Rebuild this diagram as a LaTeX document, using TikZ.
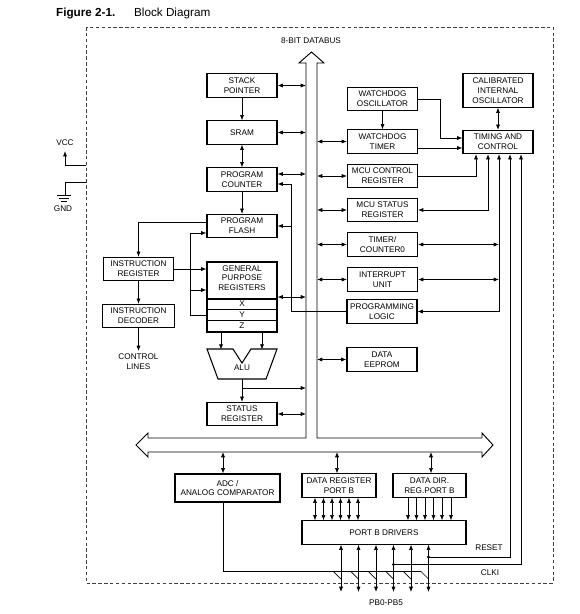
\documentclass[tikz,border=0pt]{standalone}
\usepackage{fontspec}
\setmainfont{Liberation Sans}
\usetikzlibrary{arrows.meta, calc}

\tikzset{
  blk/.style={draw, line width=0.9pt, minimum width=2.1cm, minimum height=0.7cm, align=center, inner sep=1pt, font=\fontsize{7}{8.3}\selectfont},
  lbl/.style={align=center, inner sep=0pt, font=\fontsize{7}{8.3}\selectfont},
  arr/.style={-{Latex[length=4.5pt,width=3.5pt]}, line width=0.6pt},
  dbl/.style={{Latex[length=4.5pt,width=3.5pt]}-{Latex[length=4.5pt,width=3.5pt]}, line width=0.6pt},
}

\begin{document}
\begin{tikzpicture}[x=0.03cm, y=-0.03cm]
\useasboundingbox (0,0) rectangle (579,614);

% frame and title
\draw[dash pattern=on 3pt off 2pt, line width=0.6pt, black!75] (86,27) rectangle (553,583);
\node[anchor=west, font=\fontsize{10}{12}\selectfont\bfseries] (fig) at (52,13) {Figure 2-1.};
\node[anchor=west, font=\fontsize{10}{12}\selectfont] (ttl) at (130,13) {Block Diagram};

% databus
\draw[line width=0.8pt] (306,63) -- (299,63) -- (311.5,52) -- (324,63) -- (317,63) -- (317,438)
  -- (482,438) -- (482,433) -- (493,445) -- (482,457) -- (482,452) -- (148,452) -- (148,457)
  -- (136,445) -- (148,433) -- (148,438) -- (306,438) -- cycle;
\node[lbl] (dbus) at (311,41) {8-BIT DATABUS};
\coordinate (busl) at (306,0);
\coordinate (busr) at (317,0);
\coordinate (busb) at (0,452);

% left column
\node[blk] (sp) at (242,85.5) {STACK\\POINTER};
\node[blk] (sram) at (242,132.5) {SRAM};
\node[blk] (pc) at (242,179.5) {PROGRAM\\COUNTER};
\node[blk] (flash) at (242,226) {PROGRAM\\FLASH};
\node[blk, minimum height=2.1cm] (gpr) at (242,297) {};
\foreach \y in {299,309.5,320.5}
  \draw[line width=0.9pt] (gpr.west |- 0,\y) -- (gpr.east |- 0,\y);
\node[lbl] (gprt) at (242,278) {GENERAL\\PURPOSE\\REGISTERS};
\node[lbl] (xreg) at (242,304) {X};
\node[lbl] (yreg) at (242,315) {Y};
\node[lbl] (zreg) at (242,326) {Z};
\draw[line width=0.9pt] (207,349) -- (233,349) -- (242,363) -- (251,349) -- (277,349)
  -- (266,379) -- (218,379) -- cycle;
\node[lbl] (alu) at (242,368) {ALU};
\coordinate (alub) at (242,379);
\node[blk] (sreg) at (242,414) {STATUS\\REGISTER};

\node[blk] (ir) at (138.5,269) {INSTRUCTION\\REGISTER};
\node[blk, minimum width=2.16cm] (id) at (138.5,316) {INSTRUCTION\\DECODER};
\node[lbl] (ctl) at (138.5,362) {CONTROL\\LINES};

% right column
\node[blk] (wdo) at (382.5,99) {WATCHDOG\\OSCILLATOR};
\node[blk] (wdt) at (382.5,141.5) {WATCHDOG\\TIMER};
\node[blk] (mcucr) at (382.5,176) {MCU CONTROL\\REGISTER};
\node[blk] (mcusr) at (382.5,210) {MCU STATUS\\REGISTER};
\node[blk] (tmr) at (382.5,244.5) {TIMER/\\COUNTER0};
\node[blk] (irq) at (382.5,279.5) {INTERRUPT\\UNIT};
\node[blk] (prog) at (382,311.5) {PROGRAMMING\\LOGIC};
\node[blk] (eep) at (382,359.5) {DATA\\EEPROM};
\node[blk, minimum height=1cm] (cio) at (498,90.5) {CALIBRATED\\INTERNAL\\OSCILLATOR};
\node[blk] (tc) at (498,142) {TIMING AND\\CONTROL};

% bottom
\node[blk, minimum width=3.15cm, minimum height=0.84cm] (adc) at (227.5,488) {ADC /\\ANALOG COMPARATOR};
\node[blk, minimum width=2.22cm] (dreg) at (339,485.5) {DATA REGISTER\\PORT B};
\node[blk, minimum width=2.19cm] (ddr) at (429.5,485.5) {DATA DIR.\\REG.PORT B};
\node[blk, minimum width=4.92cm] (drv) at (384,532.5) {PORT B DRIVERS};
\node[lbl] (rst) at (489,548) {RESET};
\node[lbl] (clki) at (490,573) {CLKI};
\node[lbl] (pbl) at (386,603) {PB0-PB5};

% supply
\node[lbl] (vcc) at (65,143) {VCC};
\node[lbl] (gnd) at (63,209) {GND};
\coordinate (vin) at (86,165);
\coordinate (gin) at (86,182);
\draw[arr] (vin) -| ($(vcc.south)+(0,5)$);
\draw[line width=0.6pt] (gin) -| (65,195);
\draw[line width=0.6pt] (57,195) -- (71,195) (59,198) -- (69,198) (61,201) -- (67,201);

% bus links
\foreach \n in {sp,sram,gpr,sreg}
  \draw[dbl] (\n.east) -- (\n.east -| busl);
\coordinate (pcb) at ($(pc.east)+(0,-5.5)$);
\draw[dbl] (pcb) -- (pcb -| busl);
\foreach \n in {wdt,mcucr,mcusr,tmr,irq,eep}
  \draw[dbl] (\n.west -| busr) -- (\n.west);

% left column links
\draw[arr] (sp.south) -- (sram.north);
\draw[dbl] (sram.south) -- (pc.north);
\draw[arr] (pc.south) -- (flash.north);
\draw[arr] ($(flash.west)+(0,-4)$) -| (ir.north);
\draw[arr] (ir.east) -- (ir.east -| gpr.west);
\draw[arr] (ir.south) -- (id.north);
\draw[arr] (id.south) -- ($(ctl.north)+(0,-3)$);
\draw[arr] (gpr.west |- yreg) -- ++(-16,0) |- ($(flash.west)+(0,7)$);
\draw[arr] ($(gpr.west)+(-16,-7)$) -- ($(gpr.west)+(0,-7)$);
\draw[arr] ($(gpr.south)+(-21,0)$) -- ++(0,17);
\draw[arr] ($(gpr.south)+(20,0)$) -- ++(0,17);
\draw[arr] (alub) -- (sreg.north);
\draw[arr] ($(alub)+(0,9)$) -- ($(alub -| busl)+(0,9)$);
\coordinate (pgl) at (291,0);
\draw[arr] (prog.west) -- (prog.west -| pgl) |- ($(pc.east)+(0,4.5)$);
\draw[arr] (flash.east -| pgl) -- (flash.east);

% right column links
\draw[arr] (wdo.south) -- (wdt.north);
\draw[arr] (wdo.east) -- ++(22,0) |- ($(tc.west)+(0,-4)$);
\draw[arr] ($(wdt.east)+(0,6.5)$) -- ($(tc.west)+(0,6)$);
\draw[dbl] (cio.south) -- (tc.north);
\draw[arr] (mcucr.east) -| ($(tc.south)+(-22,0)$);
\draw[dbl] (mcusr.east) -| ($(tc.south)+(-10,0)$);
\coordinate (tcv) at ($(tc.south)+(1,0)$);
\draw[dbl] (prog.east) -| (tcv);
\draw[dbl] (tmr.east) -- (tmr.east -| tcv);
\draw[dbl] (irq.east) -- (irq.east -| tcv);

% ports
\coordinate (adcb) at ($(adc.north)+(-4.5,0)$);
\coordinate (drb) at ($(dreg.north)+(-2,0)$);
\coordinate (ddb) at ($(ddr.north)+(1.5,0)$);
\draw[dbl] (adcb |- busb) -- (adcb);
\draw[dbl] (drb |- busb) -- (drb);
\draw[dbl] (ddb |- busb) -- (ddb);
\foreach \x in {315,323.5,332,340.5,349,358}
  \draw[dbl] (\x,0 |- dreg.south) -- (\x,0 |- drv.north);
\foreach \x in {408,416.5,425,433.5,442,451}
  \draw[arr] (\x,0 |- ddr.south) -- (\x,0 |- drv.north);
\draw[line width=0.6pt] (adcb |- adc.south) -- (adcb |- 0,571) -- (420.5,571);
\foreach \x in {341,358.5,376,393.5,411,428.5} {
  \draw[dbl] (\x,0 |- drv.south) -- (\x,592);
  \draw[line width=0.6pt] (\x-8,571) -- (\x,579);
}
\coordinate (rstp) at (428.5,557);
\coordinate (clkp) at (393.5,564.5);
\fill (rstp) circle (1.6);
\fill (clkp) circle (1.6);
\draw[arr] (rstp) -| ($(tc.south)+(12,0)$);
\draw[arr] (clkp) -| ($(tc.south)+(23,0)$);
\end{tikzpicture}
\end{document}
